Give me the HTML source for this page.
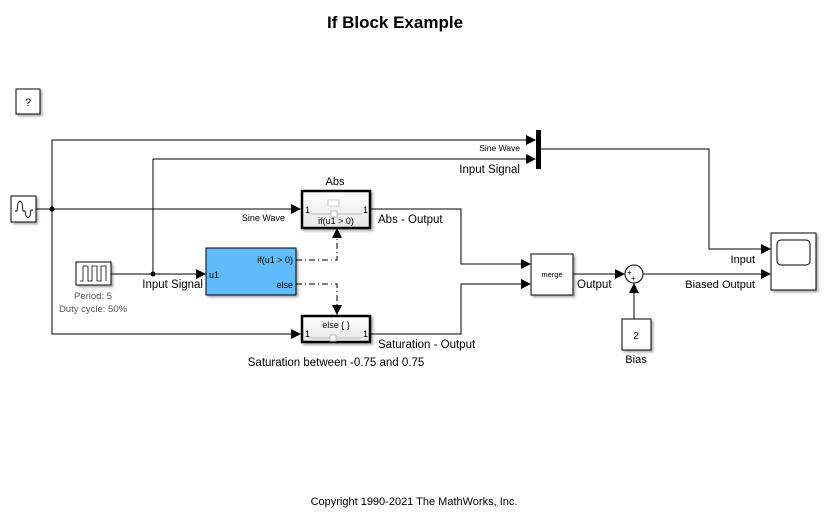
<!DOCTYPE html>
<html><head><meta charset="utf-8"><style>
html,body{margin:0;padding:0;background:#fff;}
svg{display:block;font-family:"Liberation Sans",Arial,sans-serif;}
</style></head><body>
<svg width="828" height="520" viewBox="0 0 828 520" xmlns="http://www.w3.org/2000/svg">
<defs>
<marker id="a" markerWidth="10" markerHeight="10" refX="9" refY="5" orient="auto" markerUnits="userSpaceOnUse">
<path d="M0,0 L10,5 L0,10 z" fill="#000"/></marker>
<filter id="sh" x="-20%" y="-20%" width="150%" height="150%"><feDropShadow dx="2" dy="2" stdDeviation="1" flood-color="#000" flood-opacity="0.3"/></filter>
<linearGradient id="g" x1="0" y1="0" x2="0" y2="1"><stop offset="0" stop-color="#fff"/><stop offset="1" stop-color="#e6e6e6"/></linearGradient>
</defs>
<text x="395" y="28" font-size="17" font-weight="bold" text-anchor="middle">If Block Example</text>
<rect x="16" y="89" width="24" height="25" fill="#fff" stroke="#000" filter="url(#sh)"/>
<text x="28" y="106" font-size="11" text-anchor="middle">?</text>
<g fill="none" stroke="#000" stroke-width="1">
<polyline points="52,209 52,140 535,140" marker-end="url(#a)"/>
<line x1="36" y1="209" x2="300" y2="209" marker-end="url(#a)"/>
<polyline points="52,209 52,334 300,334" marker-end="url(#a)"/>
<line x1="111" y1="274" x2="205" y2="274" marker-end="url(#a)"/>
<polyline points="153,274 153,159 535,159" marker-end="url(#a)"/>
<polyline points="371,209 461,209 461,264 530,264" marker-end="url(#a)"/>
<polyline points="371,334 461,334 461,284 530,284" marker-end="url(#a)"/>
<line x1="573" y1="274" x2="624" y2="274" marker-end="url(#a)"/>
<line x1="634" y1="319" x2="634" y2="284" marker-end="url(#a)"/>
<line x1="643" y1="274" x2="770" y2="274" marker-end="url(#a)"/>
<polyline points="541,149 709,149 709,249 770,249" marker-end="url(#a)"/>
<polyline points="296,260 337,260 337,229" stroke-dasharray="6,3,1,3" marker-end="url(#a)"/>
<polyline points="296,284 337,284 337,314" stroke-dasharray="6,3,1,3" marker-end="url(#a)"/>
</g>
<circle cx="52" cy="209" r="2.5"/><circle cx="153" cy="274" r="2.5"/>
<rect x="11" y="196" width="25" height="26" fill="#fff" stroke="#000" filter="url(#sh)"/>
<polyline points="15,211 17,211 18,203 20,201 22,203 23,211 25,211 26,216 28,218 30,216 31,210 33,210" fill="none" stroke="#000" stroke-width="0.9"/>
<rect x="76" y="262" width="35" height="23" fill="#fff" stroke="#000" filter="url(#sh)"/>
<polyline points="80,281 83,281 83,266 88,266 88,281 92,281 92,266 97,266 97,281 101,281 101,266 106,266 106,281" fill="none" stroke="#000" stroke-width="0.8"/>
<text x="93" y="299" font-size="9.5" fill="#555" text-anchor="middle">Period: 5</text>
<text x="93" y="312" font-size="9.5" fill="#555" text-anchor="middle">Duty cycle: 50%</text>
<text x="203" y="288" font-size="11.5" text-anchor="end">Input Signal</text>
<text x="285" y="221" font-size="9" text-anchor="end">Sine Wave</text>
<rect x="206" y="248" width="90" height="47" fill="#5fbbf9" stroke="#000" filter="url(#sh)"/>
<text x="209" y="278" font-size="9">u1</text>
<text x="293" y="263" font-size="9" text-anchor="end">if(u1 &gt; 0)</text>
<text x="293" y="288" font-size="9" text-anchor="end">else</text>
<text x="335" y="185" font-size="11" text-anchor="middle">Abs</text>
<rect x="302" y="191" width="68" height="37" fill="url(#g)" stroke="#000" stroke-width="2.5" filter="url(#sh)"/>
<rect x="328" y="200" width="11" height="6" fill="#fff" stroke="#ccc"/>
<line x1="310" y1="214" x2="362" y2="214" stroke="#bbb"/>
<rect x="331" y="211" width="6" height="6" fill="#fff" stroke="#bbb"/>
<text x="305" y="213" font-size="9">1</text><text x="363" y="213" font-size="9">1</text>
<text x="336" y="224" font-size="9" text-anchor="middle">if(u1 &gt; 0)</text>
<text x="378" y="223" font-size="11.5">Abs - Output</text>
<rect x="302" y="316" width="68" height="26" fill="url(#g)" stroke="#000" stroke-width="2.5" filter="url(#sh)"/>
<text x="336" y="328" font-size="9" text-anchor="middle">else { }</text>
<line x1="310" y1="338" x2="362" y2="338" stroke="#bbb"/>
<rect x="330" y="335" width="6" height="6" fill="#fff" stroke="#bbb"/>
<text x="305" y="337" font-size="9">1</text><text x="363" y="337" font-size="9">1</text>
<text x="378" y="348" font-size="11.5">Saturation - Output</text>
<text x="336" y="366" font-size="11.5" text-anchor="middle">Saturation between -0.75 and 0.75</text>
<rect x="536" y="130" width="5" height="39" fill="#000"/>
<text x="520" y="151" font-size="8.5" text-anchor="end">Sine Wave</text>
<text x="520" y="173" font-size="11.5" text-anchor="end">Input Signal</text>
<rect x="531" y="254" width="42" height="41" fill="#fff" stroke="#000" filter="url(#sh)"/>
<text x="552" y="277" font-size="7.5" text-anchor="middle">merge</text>
<text x="577" y="288" font-size="11.5">Output</text>
<circle cx="634" cy="274" r="9" fill="#fff" stroke="#000"/>
<text x="627" y="275" font-size="8">+</text><text x="631" y="281" font-size="8">+</text>
<rect x="622" y="319" width="29" height="31" fill="#fff" stroke="#000" filter="url(#sh)"/>
<text x="636" y="339" font-size="10" text-anchor="middle">2</text>
<text x="636" y="363" font-size="11" text-anchor="middle">Bias</text>
<rect x="771" y="233" width="45" height="57" fill="#fff" stroke="#000" filter="url(#sh)"/>
<rect x="777" y="240" width="33" height="25" rx="4" fill="#fff" stroke="#000"/>
<text x="755" y="263" font-size="11" text-anchor="end">Input</text>
<text x="755" y="288" font-size="11" text-anchor="end">Biased Output</text>
<text x="414" y="505" font-size="11" text-anchor="middle">Copyright 1990-2021 The MathWorks, Inc.</text>
</svg>
</body></html>
